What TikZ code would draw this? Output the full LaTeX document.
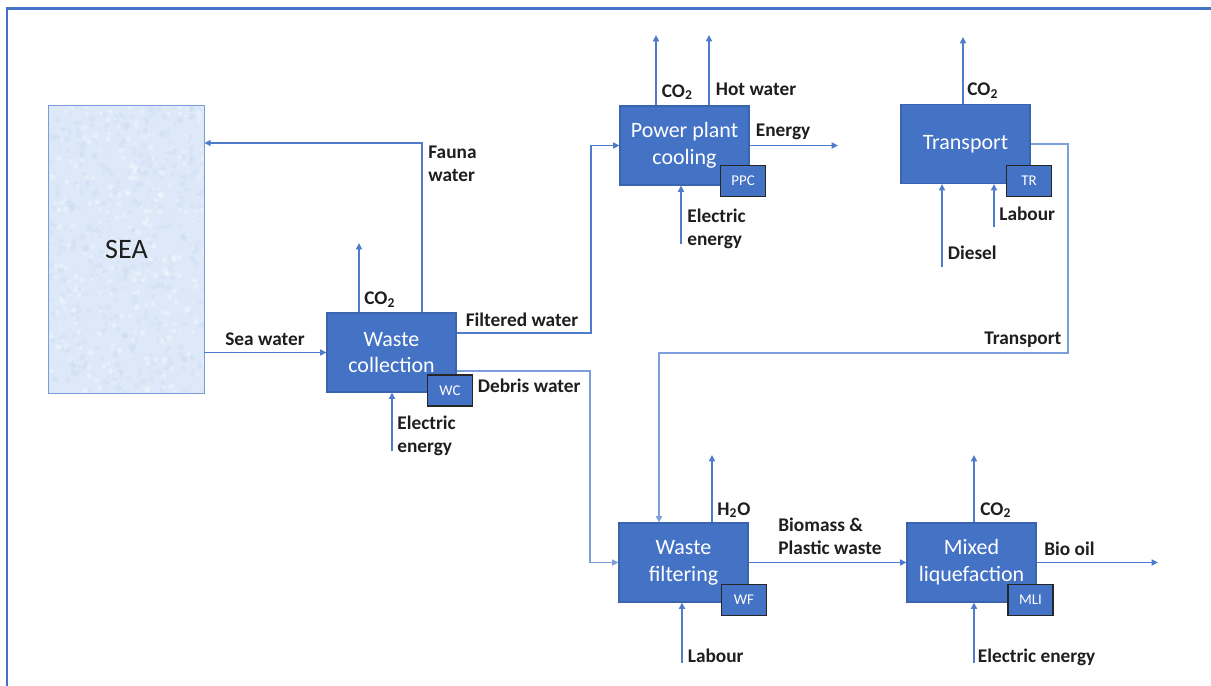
\documentclass[tikz,border=0pt]{standalone}
\usepackage{fontspec}
\setmainfont{Carlito}
\usetikzlibrary{arrows.meta}

\definecolor{procblue}{HTML}{4472C4}
\definecolor{procedge}{HTML}{3A64AE}
\definecolor{flowblue}{HTML}{4E7BCB}
\definecolor{loopblue}{HTML}{7C9EDB}
\definecolor{seafill}{HTML}{DDE9F8}
\definecolor{seaspeck}{HTML}{C6D9F1}
\definecolor{seaedge}{HTML}{7A9CDA}
\definecolor{labeltext}{HTML}{1E1E1E}

\tikzset{
  procbox/.style={draw=procedge, line width=0.6pt, fill=procblue, text=white,
    minimum width=2.58cm, minimum height=1.58cm, inner sep=0pt, align=center,
    font=\fontsize{12.5}{15.3}\selectfont},
  tagbox/.style={draw=black!85, line width=0.9pt, fill=procblue, text=white,
    minimum width=0.9cm, minimum height=0.62cm, inner sep=0pt,
    font=\fontsize{8.5}{9}\selectfont},
  seabox/.style={fill=seafill, minimum width=3.1cm, minimum height=5.74cm,
    inner sep=0pt},
  flowlabel/.style={anchor=north west, inner sep=0pt, align=left, text=labeltext,
    font=\fontsize{11}{13}\selectfont\bfseries},
  flow/.style={draw=flowblue, line width=0.8pt,
    -{Triangle[length=3.6pt,width=3.4pt]}},
  loopflow/.style={flow, draw=loopblue, line width=1pt},
  frameline/.style={draw=procblue, line width=1.4pt}
}

\begin{document}
\begin{tikzpicture}[x=0.02cm, y=-0.02cm]
  \useasboundingbox (0,0) rectangle (1211,686);

  % outer frame (top and left edges only)
  \draw[frameline] (7,686) -- (7,8.5) -- (1211,8.5);

  % sea reservoir with a fine water texture
  \node[seabox] (sea) at (126.5,249.5) {};
  \begin{scope}
    \clip (sea.south west) rectangle (sea.north east);
    \pgfmathsetseed{4242}
    \foreach \k in {1,...,500} {
      \pgfmathsetmacro{\sx}{50+155*rnd}
      \pgfmathsetmacro{\sy}{107+286*rnd}
      \pgfmathsetmacro{\sr}{1+2.5*rnd}
      \fill[seaspeck, opacity=0.3] (\sx,\sy) circle[radius=\sr];
    }
    \foreach \k in {1,...,350} {
      \pgfmathsetmacro{\sx}{50+155*rnd}
      \pgfmathsetmacro{\sy}{107+286*rnd}
      \pgfmathsetmacro{\sr}{1+2*rnd}
      \fill[white, opacity=0.3] (\sx,\sy) circle[radius=\sr];
    }
  \end{scope}
  \draw[seaedge, line width=0.8pt] (sea.south west) rectangle (sea.north east);
  \node[text=labeltext, font=\fontsize{16}{18}\selectfont] (seatext) at (sea.center) {SEA};

  % process blocks
  \node[procbox] (wc)  at (391.5,352.5) {Waste\\collection};
  \node[procbox] (ppc) at (684.5,145.5) {Power plant\\cooling};
  \node[procbox] (tr)  at (965.5,144)   {Transport};
  \node[procbox] (wf)  at (683.5,562.5) {Waste\\filtering};
  \node[procbox] (ml)  at (971.5,562.5) {Mixed\\liquefaction};

  % block tags
  \node[tagbox] (wctag)  at (450,390.5)  {WC};
  \node[tagbox] (ppctag) at (743,181)    {PPC};
  \node[tagbox] (trtag)  at (1029,181)   {TR};
  \node[tagbox] (wftag)  at (744,600)    {WF};
  \node[tagbox] (mltag)  at (1030.5,600) {MLI};

  % turning points and free ends
  \coordinate (faunaTurn) at (422,143);
  \coordinate (wcCO) at (359,243);
  \coordinate (wcEl) at (392,451);
  \coordinate (fwTurn) at (591,333);
  \coordinate (dwTurn) at (590,371);
  \coordinate (ppcCO) at (656,35);
  \coordinate (ppcHot) at (709,35);
  \coordinate (ppcEn) at (838,145.5);
  \coordinate (ppcEl) at (681,244);
  \coordinate (trCO) at (963,37);
  \coordinate (trDi) at (942,267);
  \coordinate (trLa) at (994,227);
  \coordinate (trTurnA) at (1068,144);
  \coordinate (trTurnB) at (1068,353);
  \coordinate (trTurnC) at (659,353);
  \coordinate (wfH) at (712,455);
  \coordinate (wfLa) at (682,663);
  \coordinate (mlCO) at (974,455);
  \coordinate (mlOil) at (1158,562.5);
  \coordinate (mlEl) at (974,663);

  % waste collection flows
  \draw[flow] (sea.east |- wc.west) -- (wc.west);
  \draw[flow] (wc.north -| faunaTurn) -- (faunaTurn) -- (faunaTurn -| sea.east);
  \draw[flow] (wcCO |- wc.north) -- (wcCO);
  \draw[flow] (wcEl) -- (wcEl |- wc.south);
  \draw[flow] (wc.east |- fwTurn) -- (fwTurn) -- (fwTurn |- ppc.west) -- (ppc.west);
  \draw[loopflow] (wc.east |- dwTurn) -- (dwTurn) -- (dwTurn |- wf.west) -- (wf.west);

  % power plant cooling flows
  \draw[flow] (ppcCO |- ppc.north) -- (ppcCO);
  \draw[flow] (ppcHot |- ppc.north) -- (ppcHot);
  \draw[flow] (ppc.east) -- (ppcEn);
  \draw[flow] (ppcEl) -- (ppcEl |- ppc.south);

  % transport flows
  \draw[flow] (trCO |- tr.north) -- (trCO);
  \draw[flow] (trDi) -- (trDi |- tr.south);
  \draw[flow] (trLa) -- (trLa |- tr.south);
  \draw[loopflow] (tr.east |- trTurnA) -- (trTurnA) -- (trTurnB) -- (trTurnC) -- (trTurnC |- wf.north);

  % waste filtering flows
  \draw[flow] (wfH |- wf.north) -- (wfH);
  \draw[flow] (wfLa) -- (wfLa |- wf.south);
  \draw[flow] (wf.east) -- (ml.west);

  % mixed liquefaction flows
  \draw[flow] (mlCO |- ml.north) -- (mlCO);
  \draw[flow] (ml.east) -- (mlOil);
  \draw[flow] (mlEl) -- (mlEl |- ml.south);

  % flow labels
  \node[flowlabel] (lSea)   at (225,332)   {Sea water};
  \node[flowlabel] (lFauna) at (428,146)   {Fauna\\water};
  \node[flowlabel] (lWcCO)  at (364,291.5) {CO\textsubscript{2}};
  \node[flowlabel] (lFilt)  at (465.5,313) {Filtered water};
  \node[flowlabel] (lDeb)   at (477.5,378.5) {Debris water};
  \node[flowlabel] (lWcEl)  at (397,416)   {Electric\\energy};
  \node[flowlabel] (lPpcCO) at (661.5,84)  {CO\textsubscript{2}};
  \node[flowlabel] (lHot)   at (715.5,83)  {Hot water};
  \node[flowlabel] (lEn)    at (755.5,124) {Energy};
  \node[flowlabel] (lPpcEl) at (687,208.5) {Electric\\energy};
  \node[flowlabel] (lTrCO)  at (967,82.5)  {CO\textsubscript{2}};
  \node[flowlabel] (lTrLa)  at (999,207)   {Labour};
  \node[flowlabel] (lDi)    at (947.5,246) {Diesel};
  \node[flowlabel] (lTr)    at (984,331.5) {Transport};
  \node[flowlabel] (lH)     at (717,502)   {H\textsubscript{2}O};
  \node[flowlabel] (lBio)   at (778,518)   {Biomass \&\\Plastic waste};
  \node[flowlabel] (lWfLa)  at (687.5,649) {Labour};
  \node[flowlabel] (lMlCO)  at (980,502)   {CO\textsubscript{2}};
  \node[flowlabel] (lOil)   at (1044,541.5) {Bio oil};
  \node[flowlabel] (lMlEl)  at (977.5,649) {Electric energy};
\end{tikzpicture}
\end{document}
